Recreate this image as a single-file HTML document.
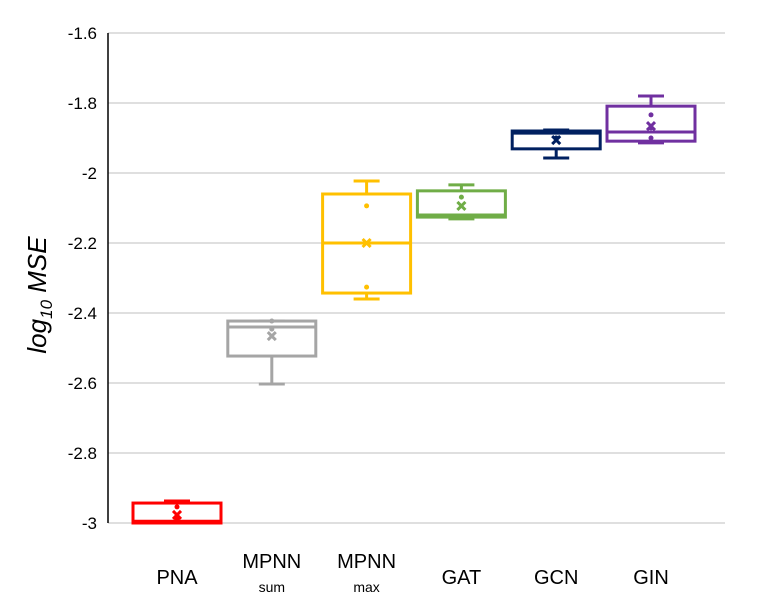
<!DOCTYPE html>
<html><head><meta charset="utf-8"><style>
body{margin:0;background:#fff;}
svg{display:block;font-family:"Liberation Sans",sans-serif;}
</style></head><body>
<svg id="chart" width="758" height="616"></svg>
<script>
const categories=["PNA","MPNN","MPNN","GAT","GCN","GIN"];
const subLabels=["","sum","max","","",""];
const colors=["#ff0000","#a5a5a5","#ffc000","#70ad47","#002060","#7030a0"];
const whiskerMin=[-3.0,-2.603,-2.36,-2.131,-1.957,-1.914];
const q1=[-3.0,-2.523,-2.343,-2.126,-1.931,-1.909];
const median=[-2.995,-2.44,-2.2,-2.12,-1.886,-1.883];
const q3=[-2.943,-2.423,-2.06,-2.051,-1.88,-1.809];
const whiskerMax=[-2.937,-2.423,-2.023,-2.034,-1.877,-1.78];
const means=[-2.977,-2.466,-2.2,-2.094,-1.906,-1.866];
const points=[[-2.954,-2.99],[-2.423,-2.446],[-2.094,-2.326],[-2.069],[-1.9],[-1.834,-1.871,-1.9]];
const yTicks=[-1.6,-1.8,-2,-2.2,-2.4,-2.6,-2.8,-3];
const yTickLabels=["-1.6","-1.8","-2","-2.2","-2.4","-2.6","-2.8","-3"];

const NS="http://www.w3.org/2000/svg";
const svg=document.getElementById('chart');
const plotL=108,plotR=725,yTop=33,yBot=523,vTop=-1.6,vBot=-3;
const y=v=>yTop+(vTop-v)/(vTop-vBot)*(yBot-yTop);
const x=i=>177+94.8*i;
function mk(tag,attrs,parent){const e=document.createElementNS(NS,tag);for(const k in attrs)e.setAttribute(k,attrs[k]);(parent||svg).appendChild(e);return e;}

yTicks.forEach((t,i)=>{
  const g=mk('line',{x1:plotL,x2:plotR,y1:y(t),y2:y(t),stroke:'#bfbfbf','stroke-width':1});
  
  
  const tx=mk('text',{x:97,y:y(t)+6,'text-anchor':'end','font-size':17,fill:'#000'});
  tx.textContent=yTickLabels[i];
  
  
});
const ax=mk('line',{x1:plotL,x2:plotL,y1:yTop,y2:yBot,stroke:'#000','stroke-width':1.5});



const bw=88,cap=26;
categories.forEach((c,i)=>{
  const cx=x(i),col=colors[i];
  const g=mk('g',{stroke:col,'stroke-width':3,fill:'none'});
  
  
  mk('line',{x1:cx,x2:cx,y1:y(whiskerMax[i]),y2:y(q3[i])},g);
  mk('line',{x1:cx,x2:cx,y1:y(q1[i]),y2:y(whiskerMin[i])},g);
  mk('line',{x1:cx-cap/2,x2:cx+cap/2,y1:y(whiskerMax[i]),y2:y(whiskerMax[i])},g);
  mk('line',{x1:cx-cap/2,x2:cx+cap/2,y1:y(whiskerMin[i]),y2:y(whiskerMin[i])},g);
  mk('rect',{x:cx-bw/2,y:y(q3[i]),width:bw,height:Math.max(1,y(q1[i])-y(q3[i]))},g);
  mk('line',{x1:cx-bw/2,x2:cx+bw/2,y1:y(median[i]),y2:y(median[i])},g);
  points[i].forEach(p=>{mk('circle',{cx:cx,cy:y(p),r:2.5,fill:col,stroke:'none'},g);});
  const my=y(means[i]);
  mk('path',{d:`M${cx-4},${my-4}L${cx+4},${my+4}M${cx+4},${my-4}L${cx-4},${my+4}`},g);
  const t=mk('text',{x:cx,y:subLabels[i]?568:584,'text-anchor':'middle','font-size':20,fill:'#000'});
  t.textContent=c;
  
  
  if(subLabels[i]){
    const s=mk('text',{x:cx,y:592,'text-anchor':'middle','font-size':14,fill:'#000'});
    s.textContent=subLabels[i];
    
    
  }
});
const ti=mk('text',{transform:'translate(46,295) rotate(-90)','text-anchor':'middle','font-size':26,'font-style':'italic',fill:'#000'});
ti.innerHTML='log<tspan font-size="17" dy="6">10</tspan><tspan dy="-6">  MSE</tspan>';


</script>
</body></html>
